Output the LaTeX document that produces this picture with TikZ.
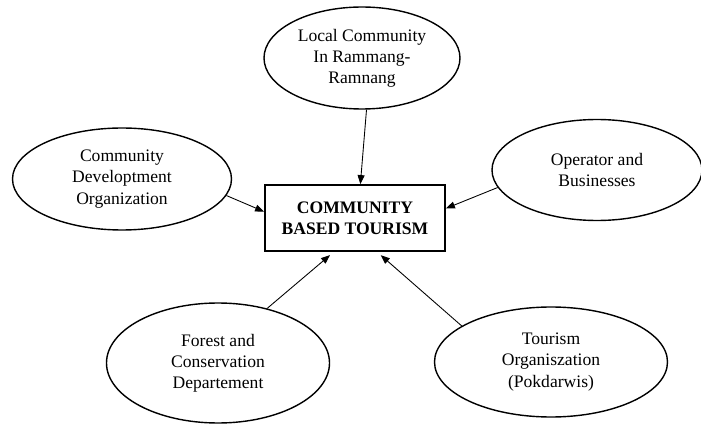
\documentclass[tikz,border=0pt]{standalone}
\usepackage{fontspec}
\setmainfont{Liberation Serif}
\usetikzlibrary{shapes.geometric, arrows.meta}

\begin{document}
\begin{tikzpicture}[
    actor/.style={draw, ellipse, line width=0.8pt, inner sep=0pt, align=center, font=\fontsize{10}{12}\selectfont},
    core/.style={draw, rectangle, line width=1pt, minimum width=3.6cm, minimum height=1.32cm, align=center, font=\fontsize{10}{12}\selectfont\bfseries},
    arrow/.style={-{Triangle[length=1.8mm, width=1.4mm]}, line width=0.5pt}
]
    \useasboundingbox (0,0) rectangle (14.02,8.48);

    \node[core] (cbt) at (7.10,4.12) {COMMUNITY\\BASED TOURISM};

    \node[actor, minimum width=3.92cm, minimum height=2.04cm] (lcr) at (7.24,7.32) {Local Community\\In Rammang-\\Ramnang};
    \node[actor, minimum width=4.38cm, minimum height=2.04cm] (cdo) at (2.44,4.90) {Community\\Developtment\\Organization};
    \node[actor, minimum width=4.20cm, minimum height=2.02cm] (opb) at (11.94,5.08) {Operator and\\Businesses};
    \node[actor, minimum width=4.46cm, minimum height=2.40cm] (fcd) at (4.36,1.22) {Forest and\\Conservation\\Departement};
    \node[actor, minimum width=4.66cm, minimum height=2.20cm] (tor) at (11.02,1.24) {Tourism\\Organiszation\\(Pokdarwis)};

    \draw[arrow] (lcr.-85) -- (cbt.81);
    \draw[arrow] (cdo.-9) -- (cbt.176);
    \draw[arrow] (opb.190) -- (cbt.6);
    \draw[arrow, shorten >=0.1cm] (fcd.48) -- (cbt.238);
    \draw[arrow, shorten >=0.1cm] (tor.158) -- (cbt.-57);
\end{tikzpicture}
\end{document}
